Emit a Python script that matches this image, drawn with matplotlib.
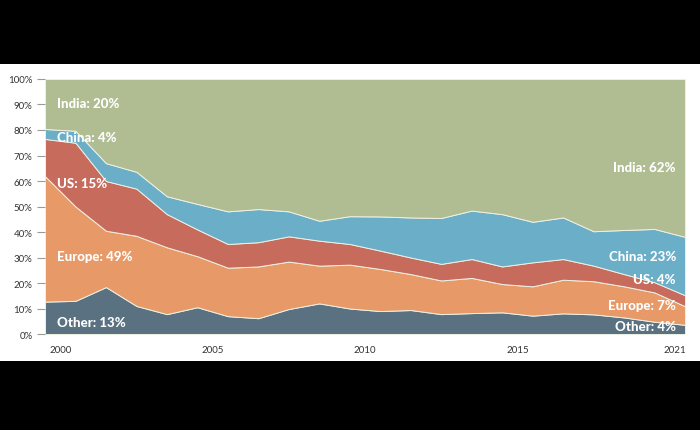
import numpy as np
import matplotlib
matplotlib.use("Agg")
import matplotlib.pyplot as plt
from matplotlib.patches import Rectangle

years = list(range(2000, 2022))
# shares in percent, bottom to top
other = [12.7, 13, 18.4, 11, 7.8, 10.5, 7, 6.2, 9.8, 12, 10, 9, 9.4, 7.8, 8.2, 8.5, 7.2, 8.1, 7.7, 6.5, 4.8, 3.6]
europe = [49.2, 37, 22.1, 27.5, 26.2, 20, 19, 20.3, 18.6, 14.8, 17.2, 16.5, 14.1, 13.2, 13.8, 11.1, 11.5, 13.2, 13, 12.2, 11.5, 7.3]
us = [14.6, 25, 19.5, 18.5, 13, 10.5, 9.3, 9.5, 9.9, 9.8, 8.1, 7.2, 6.5, 6.5, 7.4, 6.9, 9.4, 8.1, 6.1, 4.8, 4, 4.3]
china = [3.9, 4.7, 7, 6.6, 7, 10, 12.8, 13, 9.8, 7.8, 10.9, 13.4, 15.7, 18, 19, 20.5, 15.9, 16.3, 13.5, 17.3, 20.9, 22.9]
india = [19.6, 20.3, 33, 36.4, 46, 49, 51.9, 51, 51.9, 55.6, 53.8, 53.9, 54.3, 54.5, 51.6, 53, 56, 54.3, 59.7, 59.2, 58.8, 61.9]

names = ["Other", "Europe", "US", "China", "India"]
colors = ["#5a7182", "#e79a67", "#c76b5d", "#6aaec8", "#b0bd92"]
year_ticks = [2000, 2005, 2010, 2015, 2021]

plt.rcParams['font.family'] = ['Lato', 'DejaVu Sans']

fig = plt.figure(figsize=(7, 4.31), dpi=100, facecolor="black")
# white panel between the black bars
panel = Rectangle((0, 0.160), 1, 0.689, transform=fig.transFigure,
                  facecolor="white", edgecolor="none", zorder=-10)
fig.add_artist(panel)

ax = fig.add_axes([0.0643, 0.2227, 0.9143, 0.5917])
ax.set_zorder(1)
ax.set_facecolor("white")
series = [other, europe, us, china, india]
ax.stackplot(years, *series, colors=colors, edgecolor="#eef0e4", linewidth=0.7)

ax.set_xlim(2000, 2021)
ax.set_ylim(0, 100)
for s in ax.spines.values():
    s.set_visible(False)

ax.set_yticks(range(0, 101, 10))
ax.set_yticklabels([f"{v}%" for v in range(0, 101, 10)])
ax.tick_params(axis="y", length=6, width=0.8, color="#9a9a9a", pad=3,
               labelsize=7, labelcolor="#333333")

xt = [y + 0.5 for y in year_ticks[:-1]] + [year_ticks[-1] - 0.33]
ax.set_xticks(xt)
ax.set_xticklabels([str(y) for y in year_ticks])
ax.tick_params(axis="x", length=0, pad=8, labelsize=7, labelcolor="#333333")

left_y = [4.8, 30.7, 59.2, 77.4, 90.5]
right_y = [3.25, 11.4, 21.6, 30.7, 65.4]
for i, n in enumerate(names):
    ax.text(2000.39, left_y[i], f"{n}: {round(series[i][0])}%", color="white",
            fontsize=9.5, fontweight="black", ha="left", va="center")
    ax.text(2020.7, right_y[i], f"{n}: {round(series[i][-1])}%", color="white",
            fontsize=9.5, fontweight="black", ha="right", va="center")

fig.savefig("out.png", dpi=100, facecolor=fig.get_facecolor())
